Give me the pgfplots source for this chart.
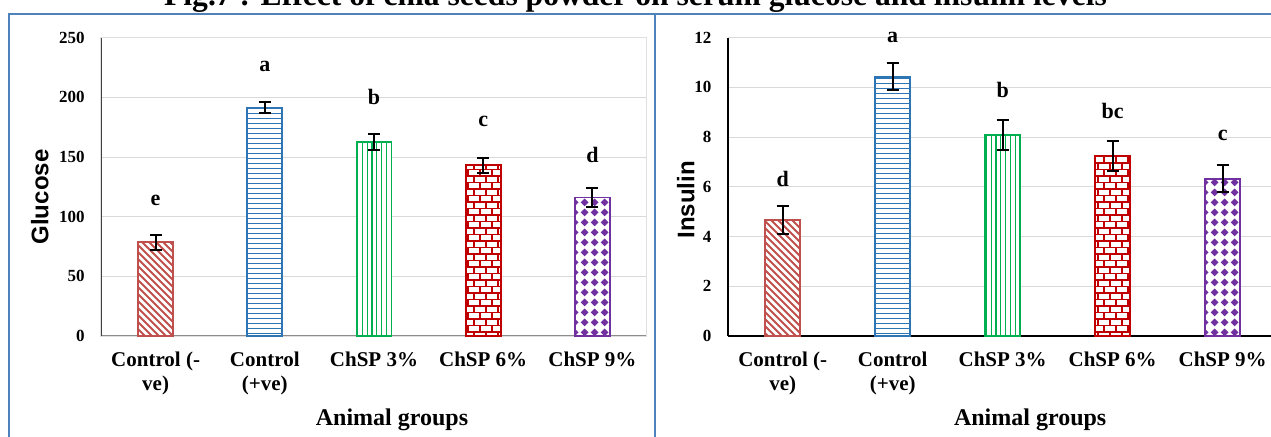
\documentclass[border=0pt]{standalone}
\usepackage{fontspec}
\setmainfont{Liberation Serif}
\newfontfamily\labsans{Liberation Sans}
\usepackage{pgfplots}
\pgfplotsset{compat=1.18}
\usetikzlibrary{patterns}

\definecolor{cA}{HTML}{C0504D}
\definecolor{cB}{HTML}{2E75B6}
\definecolor{cC}{HTML}{00B050}
\definecolor{cD}{HTML}{C00000}
\definecolor{cE}{HTML}{7030A0}
\definecolor{frameblue}{HTML}{4F81BD}
\definecolor{gridc}{HTML}{D9D9D9}

\pgfdeclarepatternformonly{pdiag}{\pgfqpoint{-1pt}{-1pt}}{\pgfqpoint{4.5pt}{4.5pt}}{\pgfqpoint{3.5pt}{3.5pt}}{
  \pgfsetlinewidth{0.9pt}
  \pgfpathmoveto{\pgfqpoint{0pt}{3.5pt}}
  \pgfpathlineto{\pgfqpoint{3.6pt}{-0.1pt}}
  \pgfusepath{stroke}}
\pgfdeclarepatternformonly{phoriz}{\pgfqpoint{-0.5pt}{-0.5pt}}{\pgfqpoint{3pt}{3pt}}{\pgfqpoint{2.5pt}{2.5pt}}{
  \pgfsetlinewidth{0.9pt}
  \pgfpathmoveto{\pgfqpoint{-0.2pt}{1.25pt}}
  \pgfpathlineto{\pgfqpoint{2.7pt}{1.25pt}}
  \pgfusepath{stroke}}
\pgfdeclarepatternformonly{pvert}{\pgfqpoint{-0.5pt}{-0.5pt}}{\pgfqpoint{3pt}{3pt}}{\pgfqpoint{2.4pt}{2.4pt}}{
  \pgfsetlinewidth{0.6pt}
  \pgfpathmoveto{\pgfqpoint{1.2pt}{-0.2pt}}
  \pgfpathlineto{\pgfqpoint{1.2pt}{2.6pt}}
  \pgfusepath{stroke}}
\pgfdeclarepatternformonly{pbricks}{\pgfqpoint{-0.5pt}{-0.5pt}}{\pgfqpoint{6.5pt}{7pt}}{\pgfqpoint{6pt}{6.5pt}}{
  \pgfsetlinewidth{0.6pt}
  \pgfpathmoveto{\pgfqpoint{-0.2pt}{0pt}}\pgfpathlineto{\pgfqpoint{6.2pt}{0pt}}
  \pgfpathmoveto{\pgfqpoint{-0.2pt}{3.25pt}}\pgfpathlineto{\pgfqpoint{6.2pt}{3.25pt}}
  \pgfpathmoveto{\pgfqpoint{0pt}{0pt}}\pgfpathlineto{\pgfqpoint{0pt}{3.25pt}}
  \pgfpathmoveto{\pgfqpoint{3pt}{3.25pt}}\pgfpathlineto{\pgfqpoint{3pt}{6.5pt}}
  \pgfusepath{stroke}}
\pgfdeclarepatternformonly{pdiam}{\pgfqpoint{0pt}{0pt}}{\pgfqpoint{5pt}{5pt}}{\pgfqpoint{5pt}{5pt}}{
  \pgfpathmoveto{\pgfqpoint{2.5pt}{0.4pt}}
  \pgfpathlineto{\pgfqpoint{4.6pt}{2.5pt}}
  \pgfpathlineto{\pgfqpoint{2.5pt}{4.6pt}}
  \pgfpathlineto{\pgfqpoint{0.4pt}{2.5pt}}
  \pgfpathclose
  \pgfusepath{fill}}

\pgfplotsset{
  panel/.style={
    scale only axis, anchor=south west, height=149.15pt,
    xmin=-0.5, xmax=4.5, ymin=0,
    xtick={0,1,2,3,4},
    xticklabels={{Control (-\\ve)},{Control\\(+ve)},{ChSP 3\%},{ChSP 6\%},{ChSP 9\%}},
    xticklabel style={align=center, anchor=north, inner sep=0pt, yshift=-8pt,
      font=\bfseries\fontsize{10.5}{12}\selectfont},
    yticklabel style={anchor=east, inner sep=0pt, xshift=-8pt,
      font=\bfseries\fontsize{8.5}{10}\selectfont},
    /pgf/number format/assume math mode=true,
    major tick length=0pt,
    axis lines=left, axis line style={-},
    ymajorgrids, grid style={gridc, line width=0.5pt},
    xlabel={Animal groups},
    xlabel style={anchor=base, font=\bfseries\fontsize{12}{14}\selectfont},
    ylabel style={anchor=center, font=\labsans\bfseries\fontsize{12}{14}\selectfont},
    clip=false,
  },
  bstyle/.style={ybar, bar width=17.5pt, bar shift=0pt, fill=white, line width=0.9pt,
    error bars/y dir=both, error bars/y explicit,
    error bars/error bar style={black, line width=1pt},
    error bars/error mark options={rotate=90, black, line width=1pt, mark size=3pt}},
}

\begin{document}
\begin{tikzpicture}
\useasboundingbox (0,0) rectangle (635.5pt,218pt);
\clip (0,0) rectangle (635.5pt,218pt);
\node[anchor=base, font=\bfseries\fontsize{15.8}{18}\selectfont] at (317.75pt,215.5pt)
  {Fig.7 : Effect of chia seeds powder on serum glucose and insulin levels};
\draw[frameblue, line width=1.2pt] (4.5pt,-5pt) rectangle (327.5pt,211pt);
\draw[frameblue, line width=1.2pt] (327.5pt,-5pt) rectangle (660pt,211pt);

% ---------------- Glucose ----------------
\begin{axis}[panel, at={(50.5pt,50pt)}, width=273pt,
  ymax=250, ytick={0,50,100,150,200,250},
  x axis line style={draw=black!45, line width=1pt},
  y axis line style={draw=black!75, line width=0.8pt},
  xlabel style={at={(axis description cs:0.533,0)}, yshift=-44.5pt},
  ylabel={Glucose},
  ylabel style={at={(axis description cs:-0.112,0.466)}},
]
\draw[black!12, line width=0.5pt] (rel axis cs:0,0) rectangle (rel axis cs:1,1);
\addplot[bstyle, draw=cA, postaction={pattern=pdiag, pattern color=cA}] coordinates {(0,78.5) +- (0,6.5)};
\addplot[bstyle, draw=cB, postaction={pattern=phoriz, pattern color=cB}] coordinates {(1,191.5) +- (0,5)};
\addplot[bstyle, draw=cC, postaction={pattern=pvert, pattern color=cC}] coordinates {(2,162.5) +- (0,6.5)};
\addplot[bstyle, draw=cD, postaction={pattern=pbricks, pattern color=cD}] coordinates {(3,143) +- (0,6.5)};
\addplot[bstyle, draw=cE, postaction={pattern=pdiam, pattern color=cE}] coordinates {(4,116) +- (0,8)};
\begin{scope}[font=\bfseries\fontsize{11}{13}\selectfont]
\node at (axis cs:0,114) {e};
\node at (axis cs:1,226) {a};
\node at (axis cs:2,200.5) {b};
\node at (axis cs:3,180) {c};
\node at (axis cs:4,152) {d};
\end{scope}
\end{axis}

% ---------------- Insulin ----------------
\begin{axis}[panel, at={(363.85pt,50pt)}, width=275pt,
  ymax=12, ytick={0,2,4,6,8,10,12},
  x axis line style={draw=black, line width=0.8pt},
  y axis line style={draw=black, line width=0.8pt},
  xlabel style={at={(axis description cs:0.550,0)}, yshift=-44.5pt},
  ylabel={Insulin},
  ylabel style={at={(axis description cs:-0.076,0.456)}},
]
\addplot[bstyle, draw=cA, postaction={pattern=pdiag, pattern color=cA}] coordinates {(0,4.66) +- (0,0.57)};
\addplot[bstyle, draw=cB, postaction={pattern=phoriz, pattern color=cB}] coordinates {(1,10.43) +- (0,0.55)};
\addplot[bstyle, draw=cC, postaction={pattern=pvert, pattern color=cC}] coordinates {(2,8.1) +- (0,0.6)};
\addplot[bstyle, draw=cD, postaction={pattern=pbricks, pattern color=cD}] coordinates {(3,7.23) +- (0,0.6)};
\addplot[bstyle, draw=cE, postaction={pattern=pdiam, pattern color=cE}] coordinates {(4,6.33) +- (0,0.55)};
\begin{scope}[font=\bfseries\fontsize{11}{13}\selectfont]
\node at (axis cs:0,6.3) {d};
\node at (axis cs:1,12.0) {a};
\node at (axis cs:2,9.9) {b};
\node at (axis cs:3,9.04) {bc};
\node at (axis cs:4,8.06) {c};
\end{scope}
\end{axis}
\end{tikzpicture}
\end{document}
